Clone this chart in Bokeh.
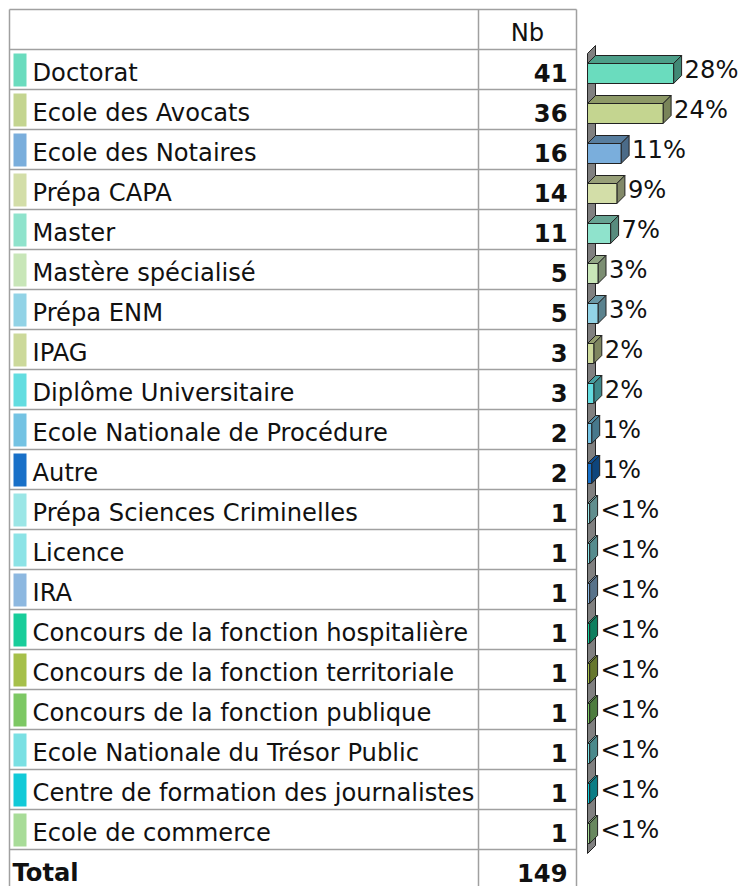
from bokeh.plotting import figure
from bokeh.models import Range1d
from bokeh.embed import file_html
from bokeh.resources import INLINE
from bokeh.core.properties import value

categories = [
    "Doctorat", "Ecole des Avocats", "Ecole des Notaires", "Prépa CAPA", "Master",
    "Mastère spécialisé", "Prépa ENM", "IPAG", "Diplôme Universitaire",
    "Ecole Nationale de Procédure", "Autre", "Prépa Sciences Criminelles", "Licence",
    "IRA", "Concours de la fonction hospitalière", "Concours de la fonction territoriale",
    "Concours de la fonction publique", "Ecole Nationale du Trésor Public",
    "Centre de formation des journalistes", "Ecole de commerce",
]
counts = [41, 36, 16, 14, 11, 5, 5, 3, 3, 2, 2, 1, 1, 1, 1, 1, 1, 1, 1, 1]
colors = [
    "#6adcbe", "#c4d590", "#7aaedc", "#d3dea8", "#8fe3cc", "#c8e6b8", "#92d3e6",
    "#ccd99a", "#63dde0", "#74c3e3", "#1870c8", "#9be6e6", "#8ce3e6", "#8db8e0",
    "#18cd9a", "#a6c04a", "#7dc864", "#7ae0e3", "#12cad8", "#a8dc98",
]
total = 149
header_label = "Nb"
total_label = "Total"

FONT = "DejaVu Sans"
FS = "24.2px"

# layout constants (pixels of the picture)
W, H = 744, 886
PX_PER_UNIT = 2.1
ZERO_X = 587
ROW0_Y = 69
ROW_H = 40
DEPTH_PX = 8

n = len(categories)

p = figure(width=W, height=H, output_backend="svg", toolbar_location=None,
           x_range=Range1d(0, W), y_range=Range1d(H, 0),
           x_axis_type=None, y_axis_type=None, min_border=0)
p.grid.visible = False
p.outline_line_color = None
p.background_fill_color = "white"
p.border_fill_color = "white"

p.extra_x_ranges = {"val": Range1d((0 - ZERO_X) / PX_PER_UNIT, (W - ZERO_X) / PX_PER_UNIT)}
p.extra_y_ranges = {"row": Range1d((H - ROW0_Y) / ROW_H, (0 - ROW0_Y) / ROW_H)}

rows = list(range(n))
bottom_row = (H - ROW0_Y) / ROW_H

# ---- table grid
line_col = "#a0a0a0"
hx0, hx1 = 9, 576
hys = [-1.5] + [i - 0.5 for i in range(n + 1)]
p.segment(x0=[hx0] * len(hys), x1=[hx1] * len(hys), y0=hys, y1=hys,
          y_range_name="row", line_color=line_col, line_width=1.5)
vxs = [9, 478, 576]
p.segment(x0=vxs, x1=vxs, y0=[-1.5] * 3, y1=[bottom_row] * 3,
          y_range_name="row", line_color=line_col, line_width=1.5)

# ---- swatches
p.quad(left=[13] * n, right=[26] * n,
       top=[r - 0.4 for r in rows], bottom=[r + 0.425 for r in rows],
       y_range_name="row", fill_color=colors, line_color=None)

# ---- labels
mid = [r + 0.09 for r in rows]
p.text(x=[32] * n, y=mid, text=categories, y_range_name="row",
       text_font=value(FONT), text_font_size=FS, text_baseline="middle",
       text_color="#111111")
p.text(x=[567] * n, y=mid, text=[str(c) for c in counts], y_range_name="row",
       text_font=value(FONT), text_font_size=FS, text_font_style="bold",
       text_align="right", text_baseline="middle", text_color="#111111")
p.text(x=[527], y=[-1 + 0.09], text=[header_label], y_range_name="row",
       text_font=value(FONT), text_font_size=FS, text_align="center",
       text_baseline="middle", text_color="#111111")
p.text(x=[12], y=[n + 0.09], text=[total_label], y_range_name="row",
       text_font=value(FONT), text_font_size=FS, text_font_style="bold",
       text_baseline="middle", text_color="#111111")
p.text(x=[567], y=[n + 0.09], text=[str(total)], y_range_name="row",
       text_font=value(FONT), text_font_size=FS, text_font_style="bold",
       text_align="right", text_baseline="middle", text_color="#111111")

# ---- 3D bars
dx = DEPTH_PX / PX_PER_UNIT
dy = DEPTH_PX / ROW_H


def shade(hexcol, f):
    h = hexcol.lstrip("#")
    r, g, b = int(h[0:2], 16), int(h[2:4], 16), int(h[4:6], 16)
    return "#%02x%02x%02x" % (int(r * f), int(g * f), int(b * f))


edge = "#222222"
wall_top, wall_bot = -0.4, n - 0.4
p.patch(x=[0, 0, dx, dx], y=[wall_bot, wall_top, wall_top - dy, wall_bot - dy],
        x_range_name="val", y_range_name="row",
        fill_color="#808080", line_color=edge, line_width=1)

front_xs, front_ys, top_xs, top_ys, side_xs, side_ys = [], [], [], [], [], []
for r, v in zip(rows, counts):
    t, b = r - 0.15, r + 0.35
    front_xs.append([0, v, v, 0]); front_ys.append([t, t, b, b])
    top_xs.append([0, v, v + dx, dx]); top_ys.append([t, t, t - dy, t - dy])
    side_xs.append([v, v + dx, v + dx, v]); side_ys.append([t, t - dy, b - dy, b])

p.patches(xs=top_xs, ys=top_ys, x_range_name="val", y_range_name="row",
          fill_color=[shade(c, 0.72) for c in colors], line_color=edge, line_width=1)
p.patches(xs=side_xs, ys=side_ys, x_range_name="val", y_range_name="row",
          fill_color=[shade(c, 0.62) for c in colors], line_color=edge, line_width=1)
p.patches(xs=front_xs, ys=front_ys, x_range_name="val", y_range_name="row",
          fill_color=colors, line_color=edge, line_width=1)

pct = []
for c in counts:
    v = 100.0 * c / total
    pct.append("<1%" if v < 1 else "%d%%" % round(v))
p.text(x=[c + dx for c in counts], y=rows, text=pct,
       x_range_name="val", y_range_name="row", x_offset=3,
       text_font=value(FONT), text_font_size=FS, text_baseline="middle",
       text_color="#111111")

open("out.html", "w").write(file_html(p, INLINE))
